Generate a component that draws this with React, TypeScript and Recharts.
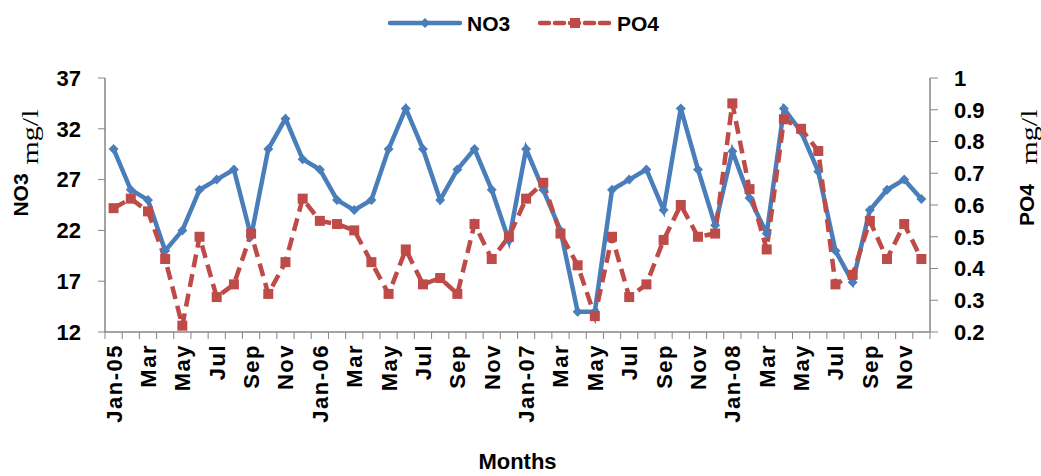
import { LineChart, Line, XAxis, YAxis, Label } from 'recharts';

// months Jan-05 .. Dec-08
const months = [
  'Jan-05', 'Feb-05', 'Mar-05', 'Apr-05', 'May-05', 'Jun-05', 'Jul-05', 'Aug-05', 'Sep-05', 'Oct-05', 'Nov-05', 'Dec-05',
  'Jan-06', 'Feb-06', 'Mar-06', 'Apr-06', 'May-06', 'Jun-06', 'Jul-06', 'Aug-06', 'Sep-06', 'Oct-06', 'Nov-06', 'Dec-06',
  'Jan-07', 'Feb-07', 'Mar-07', 'Apr-07', 'May-07', 'Jun-07', 'Jul-07', 'Aug-07', 'Sep-07', 'Oct-07', 'Nov-07', 'Dec-07',
  'Jan-08', 'Feb-08', 'Mar-08', 'Apr-08', 'May-08', 'Jun-08', 'Jul-08', 'Aug-08', 'Sep-08', 'Oct-08', 'Nov-08', 'Dec-08',
];

// what the axis shows (every second month gets a label)
const tickLabels = [
  'Jan-05', 'Feb', 'Mar', 'Apr', 'May', 'Jun', 'Jul', 'Aug', 'Sep', 'Oct', 'Nov', 'Dec',
  'Jan-06', 'Feb', 'Mar', 'Apr', 'May', 'Jun', 'Jul', 'Aug', 'Sep', 'Oct', 'Nov', 'Dec',
  'Jan-07', 'Feb', 'Mar', 'Apr', 'May', 'Jun', 'Jul', 'Aug', 'Sep', 'Oct', 'Nov', 'Dec',
  'Jan-08', 'Feb', 'Mar', 'Apr', 'May', 'Jun', 'Jul', 'Aug', 'Sep', 'Oct', 'Nov', 'Dec',
];

const no3 = [
  30, 26, 25, 20, 22, 26, 27, 28, 21.4, 30, 33, 29,
  28, 25, 24, 25, 30, 34, 30, 25, 28, 30, 26, 21,
  30, 26, 22, 14, 14, 26, 27, 28, 24, 34, 28, 22.5,
  29.8, 25.2, 21.7, 34, 31.7, 27.8, 20, 16.9, 24, 26, 27, 25.1,
];

const po4 = [
  0.59, 0.62, 0.58, 0.43, 0.22, 0.5, 0.31, 0.35, 0.51, 0.32, 0.42, 0.62,
  0.55, 0.54, 0.52, 0.42, 0.32, 0.46, 0.35, 0.37, 0.32, 0.54, 0.43, 0.5,
  0.62, 0.67, 0.51, 0.41, 0.25, 0.5, 0.31, 0.35, 0.49, 0.6, 0.5, 0.51,
  0.92, 0.65, 0.46, 0.87, 0.84, 0.77, 0.35, 0.38, 0.55, 0.43, 0.54, 0.43,
];

const no3Ticks = [12, 17, 22, 27, 32, 37];
const po4Ticks = [0.2, 0.3, 0.4, 0.5, 0.6, 0.7, 0.8, 0.9, 1];

const data = months.map((m, i) => ({ month: m, no3: no3[i], po4: po4[i] }));

const BLUE = '#4A7EBB';
const RED = '#BE4B48';
const AXIS = '#868686';
const FONT = '"Liberation Sans", Arial, sans-serif';
const SERIF = '"Liberation Serif", "Times New Roman", serif';

const PLOT_LEFT = 105;
const PLOT_RIGHT = 930;
const STEP = (PLOT_RIGHT - PLOT_LEFT) / months.length;

const MonthTick = (props: any) => {
  const { x, y, index } = props;
  const last = index === months.length - 1;
  return (
    <g>
      <line x1={x - STEP / 2} y1={y} x2={x - STEP / 2} y2={y + 7} stroke={AXIS} />
      {last && <line x1={x + STEP / 2} y1={y} x2={x + STEP / 2} y2={y + 7} stroke={AXIS} />}
      {index % 2 === 0 && (
        <text
          transform={`translate(${x + 8},${y + 12}) rotate(-90)`}
          textAnchor="end"
          fontFamily={FONT}
          fontWeight="bold"
          fontSize={22}
          letterSpacing={1.5}
          fill="#000"
        >
          {tickLabels[index]}
        </text>
      )}
    </g>
  );
};

const Diamond = (props: any) => {
  const { cx, cy } = props;
  if (cx == null || cy == null) return null;
  return <polygon points={`${cx},${cy - 5} ${cx + 5},${cy} ${cx},${cy + 5} ${cx - 5},${cy}`} fill={BLUE} />;
};

const Square = (props: any) => {
  const { cx, cy } = props;
  if (cx == null || cy == null) return null;
  return <rect x={cx - 5} y={cy - 5} width={10} height={10} fill={RED} />;
};

const LeftTitle = () => (
  <g>
    <text transform="translate(28,195) rotate(-90)" textAnchor="middle" fontFamily={FONT} fontWeight="bold" fontSize={21} fill="#000">
      NO3
    </text>
    <text transform="translate(38,137) rotate(-90) scale(1.25,1)" textAnchor="middle" fontFamily={SERIF} fontSize={24} fill="#000">
      mg/l
    </text>
  </g>
);

const RightTitle = () => (
  <g>
    <text transform="translate(1034,205) rotate(-90)" textAnchor="middle" fontFamily={FONT} fontWeight="bold" fontSize={21} fill="#000">
      PO4
    </text>
    <text transform="translate(1037,137) rotate(-90) scale(1.25,1)" textAnchor="middle" fontFamily={SERIF} fontSize={24} fill="#000">
      mg/l
    </text>
  </g>
);

const legendItems = [
  { name: 'NO3', color: BLUE, dash: undefined, x: 390 },
  { name: 'PO4', color: RED, dash: '9 6', x: 540 },
];

export default function App() {
  return (
    <div style={{ position: 'absolute', left: 0, top: 0, width: 1041, height: 476, background: '#fff', fontFamily: FONT }}>
      {/* legend */}
      <svg width={1041} height={45} style={{ position: 'absolute', left: 0, top: 0 }}>
        {legendItems.map((it) => (
          <g key={it.name}>
            <line x1={it.x} y1={23} x2={it.x + 70} y2={23} stroke={it.color} strokeWidth={4.5} strokeDasharray={it.dash} strokeLinecap="round" />
            {it.name === 'NO3'
              ? <polygon points={`${it.x + 35},${18} ${it.x + 40},${23} ${it.x + 35},${28} ${it.x + 30},${23}`} fill={it.color} />
              : <rect x={it.x + 30} y={18} width={10} height={10} fill={it.color} />}
            <text x={it.x + 77} y={31} fontFamily={FONT} fontWeight="bold" fontSize={21} fill="#000">{it.name}</text>
          </g>
        ))}
      </svg>
      <LineChart
        width={1041}
        height={476}
        data={data}
        margin={{ top: 78, right: 51, left: 45, bottom: 4 }}
        style={{ position: 'absolute', left: 0, top: 0 }}
      >
        <XAxis
          dataKey="month"
          interval={0}
          height={140}
          padding={{ left: STEP / 2, right: STEP / 2 }}
          tick={<MonthTick />}
          tickLine={false}
          tickSize={0}
          tickMargin={0}
          axisLine={{ stroke: AXIS, strokeWidth: 1.5 }}
        >
          <Label value="Months" position="insideBottom" offset={3} fontFamily={FONT} fontWeight="bold" fontSize={22} fill="#000" />
        </XAxis>
        <YAxis
          yAxisId="l"
          domain={[12, 37]}
          ticks={no3Ticks}
          width={60}
          tickSize={7}
          tickMargin={17}
          stroke={AXIS}
          axisLine={{ stroke: AXIS, strokeWidth: 1.5 }}
          tick={{ fill: '#000', fontSize: 22, fontWeight: 'bold', fontFamily: FONT }}
        >
          <Label content={<LeftTitle />} />
        </YAxis>
        <YAxis
          yAxisId="r"
          orientation="right"
          domain={[0.2, 1]}
          ticks={po4Ticks}
          width={60}
          tickSize={8}
          tickMargin={16}
          stroke={AXIS}
          axisLine={{ stroke: AXIS, strokeWidth: 1.5 }}
          tickFormatter={(v: number) => String(Number(v.toFixed(1)))}
          tick={{ fill: '#000', fontSize: 22, fontWeight: 'bold', fontFamily: FONT }}
        >
          <Label content={<RightTitle />} />
        </YAxis>
        <Line
          yAxisId="l"
          dataKey="no3"
          name="NO3"
          stroke={BLUE}
          strokeWidth={4.5}
          dot={<Diamond />}
          activeDot={false}
          isAnimationActive={false}
        />
        <Line
          yAxisId="r"
          dataKey="po4"
          name="PO4"
          stroke={RED}
          strokeWidth={4.5}
          strokeDasharray="13 7"
          dot={<Square />}
          activeDot={false}
          isAnimationActive={false}
        />
      </LineChart>
    </div>
  );
}
